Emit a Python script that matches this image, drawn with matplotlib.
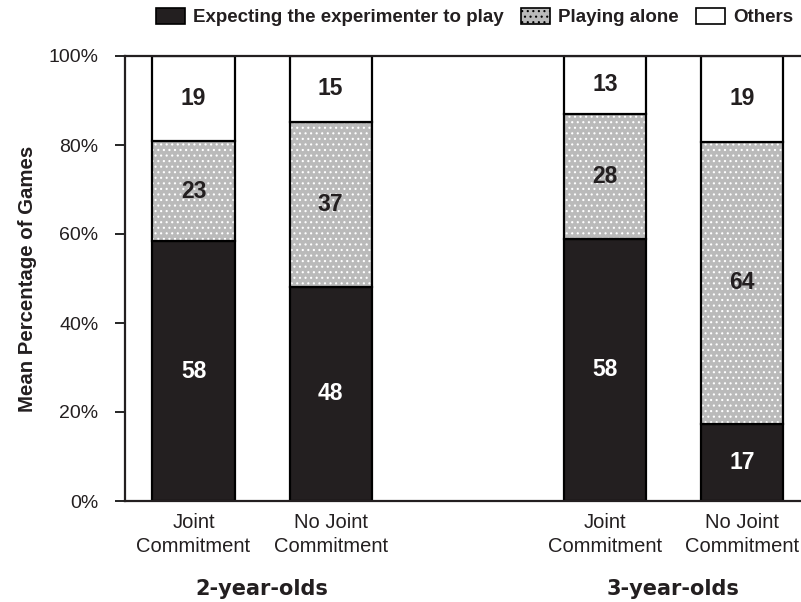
import matplotlib
matplotlib.use("Agg")
import matplotlib.pyplot as plt
from matplotlib.patches import Patch
from matplotlib.transforms import blended_transform_factory

plt.rcParams['font.family'] = ['Liberation Sans', 'DejaVu Sans']
plt.rcParams['hatch.linewidth'] = 0.8

# Data
categories = ["Joint\nCommitment", "No Joint\nCommitment", "Joint\nCommitment", "No Joint\nCommitment"]
positions = [0, 1, 3, 4]
groups = ["2-year-olds", "3-year-olds"]
group_centers = [0.5, 3.5]
expecting = [58.4, 48.1, 58.9, 17.3]
alone = [22.5, 37.1, 28.1, 63.4]
others = [19.1, 14.8, 13.0, 19.3]
expecting_lbl = [58, 48, 58, 17]
alone_lbl = [23, 37, 28, 64]
others_lbl = [19, 15, 13, 19]
yticks = [0, 20, 40, 60, 80, 100]
ytick_labels = ["0%", "20%", "40%", "60%", "80%", "100%"]
series_names = ["Expecting the experimenter to play", "Playing alone", "Others"]

dark = '#231f20'
gray = '#bababa'
W = 0.6
LW = 1.6

fig = plt.figure(figsize=(8.01, 6.02), dpi=100)
ax = fig.add_axes([125/801, 1-501/602, (810.5-125)/801, (501-56)/602])

ax.bar(positions, expecting, width=W, color=dark, edgecolor='black', linewidth=LW)
bottom2 = expecting
ax.bar(positions, alone, bottom=bottom2, width=W, color=gray, edgecolor='white',
       hatch='...', linewidth=0)
ax.bar(positions, alone, bottom=bottom2, width=W, fill=False, edgecolor='black', linewidth=LW)
bottom3 = [a + b for a, b in zip(expecting, alone)]
ax.bar(positions, others, bottom=bottom3, width=W, color='white', edgecolor='black', linewidth=LW)

for x, e, a, o, el, al, ol in zip(positions, expecting, alone, others, expecting_lbl, alone_lbl, others_lbl):
    ax.text(x, e/2, str(el), ha='center', va='center', color='white', fontsize=16.5, fontweight='bold')
    ax.text(x, e + a/2, str(al), ha='center', va='center', color=dark, fontsize=16.5, fontweight='bold')
    ax.text(x, e + a + o/2, str(ol), ha='center', va='center', color=dark, fontsize=16.5, fontweight='bold')

ax.set_xlim(-0.5, 4.5)
ax.set_ylim(0, 100)
ax.set_yticks(yticks)
ax.set_yticklabels(ytick_labels, fontsize=14, color=dark)
ax.set_xticks(positions)
ax.set_xticklabels(categories, fontsize=14.5, color=dark, linespacing=1.3)
ax.tick_params(axis='x', length=0, pad=9)
ax.tick_params(axis='y', length=7, width=1.2, pad=12, direction='out')
for s in ['left', 'top', 'bottom']:
    ax.spines[s].set_linewidth(1.6)
    ax.spines[s].set_color(dark)
ax.spines['right'].set_visible(False)
ax.set_ylabel("Mean Percentage of Games", fontsize=14.7, fontweight='bold', labelpad=8,
              color=dark)

tr = blended_transform_factory(ax.transData, fig.transFigure)
for g, c in zip(groups, group_centers):
    ax.text(c, 1 - 589/602, g, transform=tr, ha='center', va='center', fontsize=15,
            fontweight='bold', color=dark, family=['DejaVu Sans'])

handles = [Patch(facecolor=dark, edgecolor='black', linewidth=1.2),
           Patch(facecolor=gray, edgecolor='black', hatch='...', linewidth=1.2),
           Patch(facecolor='white', edgecolor='black', linewidth=1.2)]
leg = fig.legend(handles, series_names, loc='upper left', bbox_to_anchor=(148/801, 1.0),
                 ncol=3, frameon=False, handlelength=1.55, handleheight=0.95,
                 handletextpad=0.45, columnspacing=0.9, borderaxespad=0.0, borderpad=0.4,
                 prop={'weight': 'bold', 'size': 13.5})
for t in leg.get_texts():
    t.set_color(dark)

fig.savefig("out.png", dpi=100)
